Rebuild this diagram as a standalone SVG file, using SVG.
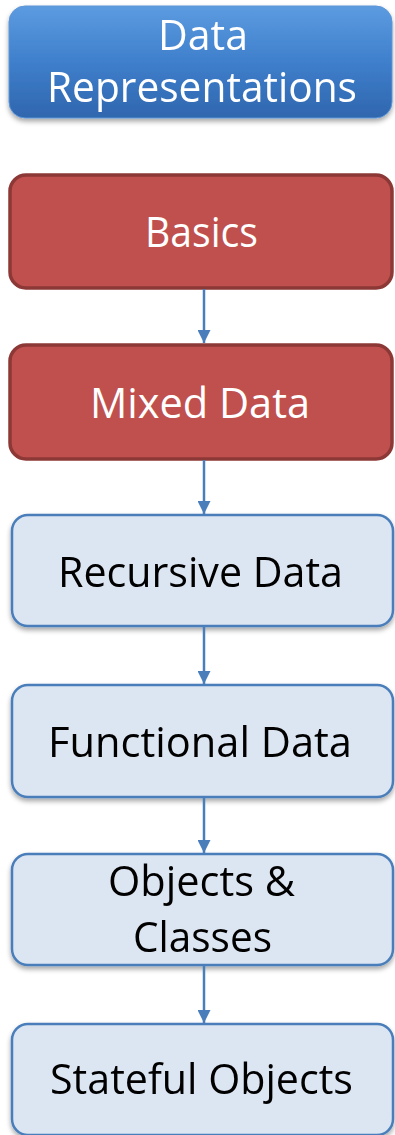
<svg xmlns="http://www.w3.org/2000/svg" width="395" height="1135" viewBox="0 0 395 1135">
<defs>
<linearGradient id="blueGrad" x1="0" y1="0" x2="0" y2="1">
<stop offset="0" stop-color="#5C9BE0"/>
<stop offset="0.5" stop-color="#3F7FCC"/>
<stop offset="1" stop-color="#2F66AE"/>
</linearGradient>
<filter id="shadow" x="-10%" y="-10%" width="120%" height="130%">
<feDropShadow dx="0" dy="3" stdDeviation="2.5" flood-color="#000" flood-opacity="0.35"/>
</filter>
<marker id="arrow" markerWidth="15" markerHeight="13" refX="15" refY="7.5" orient="auto" markerUnits="userSpaceOnUse" viewBox="0 0 15 15">
<path d="M0,0 L15,7.5 L0,15 Z" fill="#4A7EBB"/>
</marker>
</defs>
<style>
.red rect{fill:#C0504D;stroke:#8C3836;stroke-width:3.5}
.light rect{fill:#DCE6F2;stroke:#4A7EBB;stroke-width:2.5}
.top rect{fill:url(#blueGrad);stroke:#5E95D6;stroke-width:1}
text{font-family:"Open Sans","Liberation Sans",sans-serif;font-size:42px;text-anchor:middle}
.red text,.top text{fill:#FFFFFF}
.light text{fill:#000000}
.conn line{stroke:#4A7EBB;stroke-width:2.5}
</style>
<g id="node-data-representations" class="top" filter="url(#shadow)">
<rect x="9" y="6" width="383" height="112" rx="16"/>
<text x="203" y="50" textLength="90" lengthAdjust="spacingAndGlyphs">Data</text>
<text x="202" y="102" textLength="310" lengthAdjust="spacingAndGlyphs">Representations</text>
</g>
<g id="node-basics" class="red">
<rect x="10" y="175" width="382" height="113" rx="16"/>
<text x="201.5" y="247" textLength="113" lengthAdjust="spacingAndGlyphs">Basics</text>
</g>
<g id="node-mixed-data" class="red">
<rect x="10" y="345" width="382" height="114" rx="16"/>
<text x="200" y="418" textLength="220" lengthAdjust="spacingAndGlyphs">Mixed Data</text>
</g>
<g id="node-recursive-data" class="light" filter="url(#shadow)">
<rect x="12" y="515" width="381" height="111" rx="16"/>
<text x="200.5" y="587" textLength="285" lengthAdjust="spacingAndGlyphs">Recursive Data</text>
</g>
<g id="node-functional-data" class="light" filter="url(#shadow)">
<rect x="12" y="685" width="381" height="112" rx="16"/>
<text x="200" y="757" textLength="304" lengthAdjust="spacingAndGlyphs">Functional  Data</text>
</g>
<g id="node-objects-classes" class="light" filter="url(#shadow)">
<rect x="12" y="854" width="381" height="111" rx="16"/>
<text x="201.5" y="896" textLength="187" lengthAdjust="spacingAndGlyphs">Objects &amp;</text>
<text x="202.5" y="952" textLength="139" lengthAdjust="spacingAndGlyphs">Classes</text>
</g>
<g id="node-stateful-objects" class="light" filter="url(#shadow)">
<rect x="12" y="1024" width="381" height="111" rx="16"/>
<text x="201.5" y="1094" textLength="303" lengthAdjust="spacingAndGlyphs">Stateful Objects</text>
</g>
<g id="connectors" class="conn">
<line x1="204" y1="289" x2="204" y2="343" marker-end="url(#arrow)"/>
<line x1="204" y1="460" x2="204" y2="514" marker-end="url(#arrow)"/>
<line x1="204" y1="627" x2="204" y2="684" marker-end="url(#arrow)"/>
<line x1="204" y1="798" x2="204" y2="853" marker-end="url(#arrow)"/>
<line x1="204" y1="966" x2="204" y2="1023" marker-end="url(#arrow)"/>
</g>
</svg>
